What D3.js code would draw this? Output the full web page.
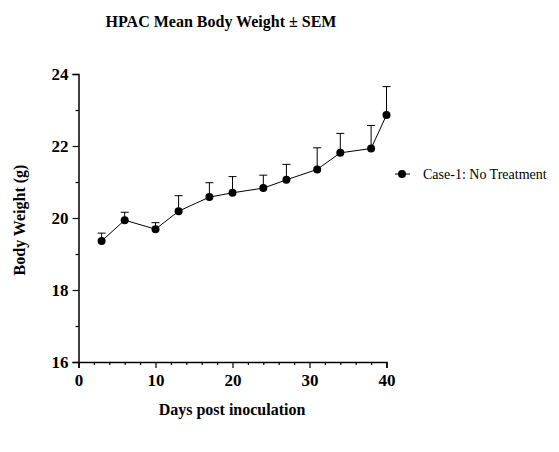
<!DOCTYPE html>
<html>
<head>
<meta charset="utf-8">
<script src="https://cdn.jsdelivr.net/npm/d3@7"></script>
<style>
  body { margin: 0; background: #fff; }
  text { font-family: "Liberation Serif", "Times New Roman", serif; fill: #000; }
</style>
</head>
<body>
<svg width="559" height="452"></svg>
<script>
let width = 559, height = 452;

// data
let days = [3, 6, 10, 13, 17, 20, 24, 27, 31, 34, 38, 40];
let meanWeight = [19.36, 19.94, 19.69, 20.19, 20.58, 20.70, 20.83, 21.06, 21.35, 21.81, 21.93, 22.86];
let semWeight = [0.22, 0.22, 0.18, 0.43, 0.40, 0.45, 0.36, 0.43, 0.60, 0.54, 0.64, 0.79];
let xTicks = [0, 10, 20, 30, 40];
let yTicks = [16, 18, 20, 22, 24];
let seriesName = "Case-1: No Treatment";

let svg = d3.select("svg");

let x = d3.scaleLinear().domain([0, 40]).range([78.5, 386.5]);
let y = d3.scaleLinear().domain([16, 24]).range([362, 74]);

// title
svg.append("text")
    .attr("x", 221).attr("y", 27)
    .attr("text-anchor", "middle")
    .style("font-weight", "bold").style("font-size", "16px")
    .text("HPAC Mean Body Weight \u00b1 SEM");

// axes
let xAxis = svg.append("g").attr("transform", "translate(0,362)")
    .call(d3.axisBottom(x).tickValues(xTicks).tickSize(6).tickPadding(6).tickFormat(d3.format("d")));
svg.append("g").attr("transform", "translate(0,362)")
    .call(d3.axisBottom(x).tickValues(d3.range(2, 40, 2).filter(d => d % 10 !== 0)).tickSize(3).tickFormat(""))
    .select(".domain").remove();

let yAxis = svg.append("g").attr("transform", "translate(78.5,0)")
    .call(d3.axisLeft(y).tickValues(yTicks).tickSize(6).tickPadding(4).tickFormat(d3.format("d")));
svg.append("g").attr("transform", "translate(78.5,0)")
    .call(d3.axisLeft(y).tickValues([17, 19, 21, 23]).tickSize(3).tickFormat(""))
    .select(".domain").remove();

svg.selectAll(".domain").attr("stroke-width", 1.5);
svg.selectAll(".tick line").attr("stroke-width", 1.2);
svg.selectAll(".tick text")
    .style("font-family", "'Liberation Serif', serif")
    .style("font-weight", "bold").style("font-size", "17px");
yAxis.selectAll(".tick text").attr("dy", "0.35em");

// axis labels
svg.append("text")
    .attr("x", 232).attr("y", 415)
    .attr("text-anchor", "middle")
    .style("font-weight", "bold").style("font-size", "16px")
    .text("Days post inoculation");

svg.append("text")
    .attr("transform", "translate(25,220) rotate(-90)")
    .attr("text-anchor", "middle")
    .style("font-weight", "bold").style("font-size", "16px")
    .text("Body Weight (g)");

// error bars (upper only)
let pts = days.map((d, i) => ({ day: d, mean: meanWeight[i], sem: semWeight[i] }));

let err = svg.append("g");
err.selectAll("line.v").data(pts).enter().append("line")
    .attr("x1", d => x(d.day)).attr("x2", d => x(d.day))
    .attr("y1", d => y(d.mean)).attr("y2", d => y(d.mean + d.sem))
    .attr("stroke", "#000").attr("stroke-width", 1);
err.selectAll("line.h").data(pts).enter().append("line")
    .attr("x1", d => x(d.day) - 4).attr("x2", d => x(d.day) + 4)
    .attr("y1", d => y(d.mean + d.sem)).attr("y2", d => y(d.mean + d.sem))
    .attr("stroke", "#000").attr("stroke-width", 1);

// line
let line = d3.line().x(d => x(d.day)).y(d => y(d.mean));
svg.append("path").datum(pts)
    .attr("d", line).attr("fill", "none")
    .attr("stroke", "#000").attr("stroke-width", 1);

svg.append("g").selectAll("circle").data(pts).enter().append("circle")
    .attr("cx", d => x(d.day)).attr("cy", d => y(d.mean))
    .attr("r", 4).attr("fill", "#000");

// legend
let leg = svg.append("g").attr("transform", "translate(402,174)");
leg.append("line").attr("x1", -7).attr("x2", 8).attr("stroke", "#000").attr("stroke-width", 1);
leg.append("circle").attr("r", 4).attr("fill", "#000");
leg.append("text").attr("x", 21).attr("dy", "0.35em")
    .style("font-size", "14px")
    .text(seriesName);
</script>
</body>
</html>
